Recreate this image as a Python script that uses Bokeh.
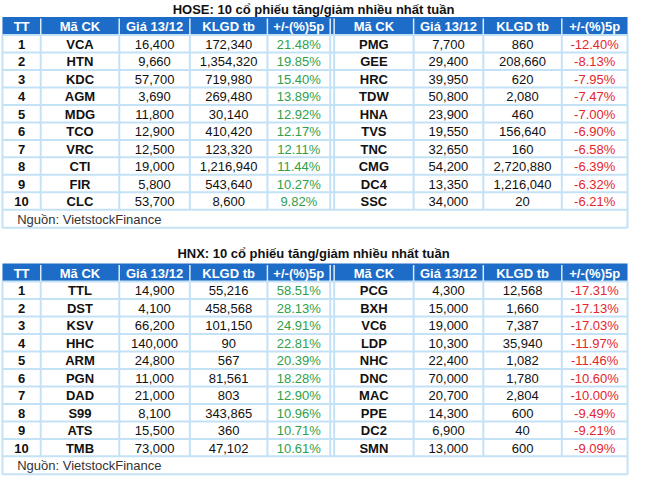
from bokeh.plotting import figure
from bokeh.models import ColumnDataSource
from bokeh.core.properties import value
from bokeh.embed import file_html
from bokeh.resources import INLINE

# ---------------- data ----------------
headers = ["TT", "Mã CK", "Giá 13/12", "KLGD tb", "+/-(%)5p", "Mã CK", "Giá 13/12", "KLGD tb", "+/-(%)5p"]
ranks = list(range(1, 11))
source_note = "Nguồn: VietstockFinance"

hose_title = "HOSE: 10 cổ phiếu tăng/giảm nhiều nhất tuần"
hose_up_code = ["VCA", "HTN", "KDC", "AGM", "MDG", "TCO", "VRC", "CTI", "FIR", "CLC"]
hose_up_price = [16400, 9660, 57700, 3690, 11800, 12900, 12500, 19000, 5800, 53700]
hose_up_vol = [172340, 1354320, 719980, 269480, 30140, 410420, 123320, 1216940, 543640, 8600]
hose_up_pct = [21.48, 19.85, 15.40, 13.89, 12.92, 12.17, 12.11, 11.44, 10.27, 9.82]
hose_dn_code = ["PMG", "GEE", "HRC", "TDW", "HNA", "TVS", "TNC", "CMG", "DC4", "SSC"]
hose_dn_price = [7700, 29400, 39950, 50800, 23900, 19550, 32650, 54200, 13350, 34000]
hose_dn_vol = [860, 208660, 620, 2080, 460, 156640, 160, 2720880, 1216040, 20]
hose_dn_pct = [-12.40, -8.13, -7.95, -7.47, -7.00, -6.90, -6.58, -6.39, -6.32, -6.21]

hnx_title = "HNX: 10 cổ phiếu tăng/giảm nhiều nhất tuần"
hnx_up_code = ["TTL", "DST", "KSV", "HHC", "ARM", "PGN", "DAD", "S99", "ATS", "TMB"]
hnx_up_price = [14900, 4100, 66200, 140000, 24800, 11000, 21000, 8100, 15500, 73000]
hnx_up_vol = [55216, 458568, 101150, 90, 567, 81561, 803, 343865, 360, 47102]
hnx_up_pct = [58.51, 28.13, 24.91, 22.81, 20.39, 18.28, 12.90, 10.96, 10.71, 10.61]
hnx_dn_code = ["PCG", "BXH", "VC6", "LDP", "NHC", "DNC", "MAC", "PPE", "DC2", "SMN"]
hnx_dn_price = [4300, 15000, 19000, 10300, 22400, 70000, 20700, 14300, 6900, 13000]
hnx_dn_vol = [12568, 1660, 7387, 35940, 1082, 1780, 2804, 600, 40, 600]
hnx_dn_pct = [-17.31, -17.13, -17.03, -11.97, -11.46, -10.60, -10.00, -9.49, -9.21, -9.09]

# ---------------- layout / style ----------------
FONT = value("Liberation Sans")
BLUE = "#1C6CC8"
GRID = "#C4E2F6"
GREEN = "#30A04A"
RED = "#E3262D"
# column boundaries (left half ends at 338, right half starts at 342)
left_edges = [4, 43, 123, 195, 274, 342, 423, 494, 574]
right_edges = [43, 123, 195, 274, 338, 423, 494, 574, 641]
ROW_H = 17.95
HEAD_H = 18.5

p = figure(width=629, height=476, x_range=(2, 643), y_range=(491, 2),
           output_backend="svg", toolbar_location=None, min_border=0)
p.axis.visible = False
p.grid.visible = False
p.outline_line_color = None
p.background_fill_color = "white"
p.border_fill_color = "white"


def draw_table(title, title_y, head_top, up, dn):
    up_code, up_price, up_vol, up_pct = up
    dn_code, dn_price, dn_vol, dn_pct = dn
    body_top = head_top + HEAD_H
    body_bot = body_top + 10 * ROW_H
    src_bot = body_bot + 18.5

    # title
    p.text(x=[321], y=[title_y], text=[title], text_align="center", text_baseline="middle",
           text_font=FONT, text_font_size="13px", text_font_style="bold", text_color="#111111")

    # header background
    p.quad(left=[4], right=[641], top=[head_top], bottom=[body_top], fill_color=BLUE, line_color=None)

    # body background
    p.quad(left=[4], right=[641], top=[body_top], bottom=[src_bot], fill_color="white", line_color=None)

    # grid lines: horizontal
    ys = [body_top + i * ROW_H for i in range(11)] + [src_bot]
    p.segment(x0=[4] * len(ys), x1=[641] * len(ys), y0=ys, y1=ys, line_color=GRID, line_width=2)
    # vertical inner lines for rows
    inner = [43, 123, 195, 274, 338, 342, 423, 494, 574]
    p.segment(x0=inner, x1=inner, y0=[body_top] * len(inner), y1=[body_bot] * len(inner),
              line_color=GRID, line_width=2)
    # outer verticals
    p.segment(x0=[4, 641], x1=[4, 641], y0=[body_top, body_top], y1=[src_bot, src_bot],
              line_color=GRID, line_width=2)
    # header separators
    p.segment(x0=inner, x1=inner, y0=[head_top + 1.5] * len(inner), y1=[body_top - 0.5] * len(inner),
              line_color="#DCEBF8", line_width=1.5)

    # header text
    hx = [(a + b) / 2 for a, b in zip(left_edges, right_edges)]
    p.text(x=hx, y=[head_top + HEAD_H / 2 + 0.5] * len(hx), text=headers, text_align="center",
           text_baseline="middle", text_font=FONT, text_font_size="13px", text_font_style="bold",
           text_color="white")

    cy = [body_top + (i + 0.5) * ROW_H + 0.5 for i in range(10)]
    centers = hx

    def col(ci, texts, color, bold):
        src = ColumnDataSource(dict(x=[centers[ci]] * len(texts), y=cy, t=texts))
        p.text(x="x", y="y", text="t", source=src, text_align="center", text_baseline="middle",
               text_font=FONT, text_font_size="13px",
               text_font_style="bold" if bold else "normal", text_color=color)

    col(0, [str(r) for r in ranks], "#111111", True)
    col(1, up_code, "#111111", True)
    col(2, [f"{v:,}" for v in up_price], "#111111", False)
    col(3, [f"{v:,}" for v in up_vol], "#111111", False)
    col(4, [f"{v:.2f}%" for v in up_pct], GREEN, False)
    col(5, dn_code, "#111111", True)
    col(6, [f"{v:,}" for v in dn_price], "#111111", False)
    col(7, [f"{v:,}" for v in dn_vol], "#111111", False)
    col(8, [f"{v:.2f}%" for v in dn_pct], RED, False)

    # source note
    p.text(x=[19], y=[(body_bot + src_bot) / 2 + 0.5], text=[source_note], text_align="left",
           text_baseline="middle", text_font=FONT, text_font_size="13px", text_color="#333333")


draw_table(hose_title, 11, 19,
           (hose_up_code, hose_up_price, hose_up_vol, hose_up_pct),
           (hose_dn_code, hose_dn_price, hose_dn_vol, hose_dn_pct))
draw_table(hnx_title, 262, 272.3,
           (hnx_up_code, hnx_up_price, hnx_up_vol, hnx_up_pct),
           (hnx_dn_code, hnx_dn_price, hnx_dn_vol, hnx_dn_pct))

open("out.html", "w").write(file_html(p, INLINE))
